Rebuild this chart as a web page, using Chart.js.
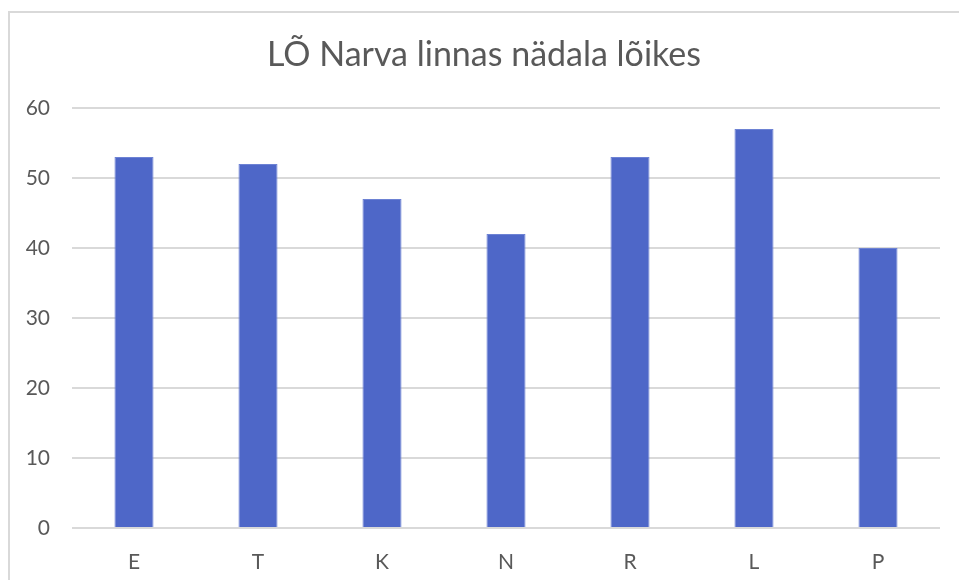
<!DOCTYPE html>
<html>
<head>
<meta charset="utf-8">
<script src="https://cdn.jsdelivr.net/npm/chart.js@4.4.1/dist/chart.umd.min.js"></script>
<style>
  html, body { margin: 0; padding: 0; background: #ffffff; }
  canvas { display: block; }
</style>
</head>
<body>
<canvas id="chart" width="959" height="580"></canvas>
<script>
// Weekday categories and their values
const days = ['E', 'T', 'K', 'N', 'R', 'L', 'P'];
const values = [53, 52, 47, 42, 53, 57, 40];
const chartTitle = 'LÕ Narva linnas nädala lõikes';
const yMin = 0, yMax = 60, yStep = 10;

const textColor = '#595959';
const gridColor = '#d9d9d9';
const fontFamily = 'Lato, "Open Sans", sans-serif';

// Thin frame around the whole chart object, plus the title centred on that frame
const frame = {
  id: 'frame',
  beforeDraw(chart) {
    const ctx = chart.ctx;
    ctx.save();
    ctx.fillStyle = '#ffffff';
    ctx.fillRect(0, 0, chart.width, chart.height);
    ctx.strokeStyle = gridColor;
    ctx.lineWidth = 2;
    ctx.strokeRect(9, 12, chart.width + 20, chart.height + 20);
    ctx.restore();
  },
  afterDraw(chart) {
    const ctx = chart.ctx;
    ctx.save();
    ctx.fillStyle = textColor;
    ctx.font = '34px ' + fontFamily;
    ctx.textAlign = 'center';
    ctx.textBaseline = 'alphabetic';
    ctx.fillText(chartTitle, 484, 66);
    ctx.restore();
  }
};

new Chart(document.getElementById('chart'), {
  type: 'bar',
  data: {
    labels: days,
    datasets: [{
      data: values,
      backgroundColor: '#4e67c8',
      borderColor: '#6d82d4',
      borderWidth: 1,
      borderSkipped: 'bottom',
      categoryPercentage: 1,
      barPercentage: 0.315
    }]
  },
  options: {
    responsive: false,
    devicePixelRatio: 1,
    animation: false,
    layout: { padding: { left: 0, right: 19, top: 108, bottom: 0 } },
    plugins: {
      legend: { display: false },
      tooltip: { enabled: false },
      title: { display: false }
    },
    scales: {
      x: {
        grid: { display: false },
        border: { display: false },
        ticks: {
          color: textColor,
          font: { family: fontFamily, size: 21 },
          padding: 14
        },
        afterFit(scale) { scale.height = 52; }
      },
      y: {
        min: yMin,
        max: yMax,
        grid: { color: gridColor, lineWidth: 2, drawTicks: false },
        border: { display: false },
        ticks: {
          stepSize: yStep,
          color: textColor,
          font: { family: fontFamily, size: 21 },
          padding: 22
        },
        afterFit(scale) { scale.width = 72; }
      }
    }
  },
  plugins: [frame]
});
</script>
</body>
</html>
